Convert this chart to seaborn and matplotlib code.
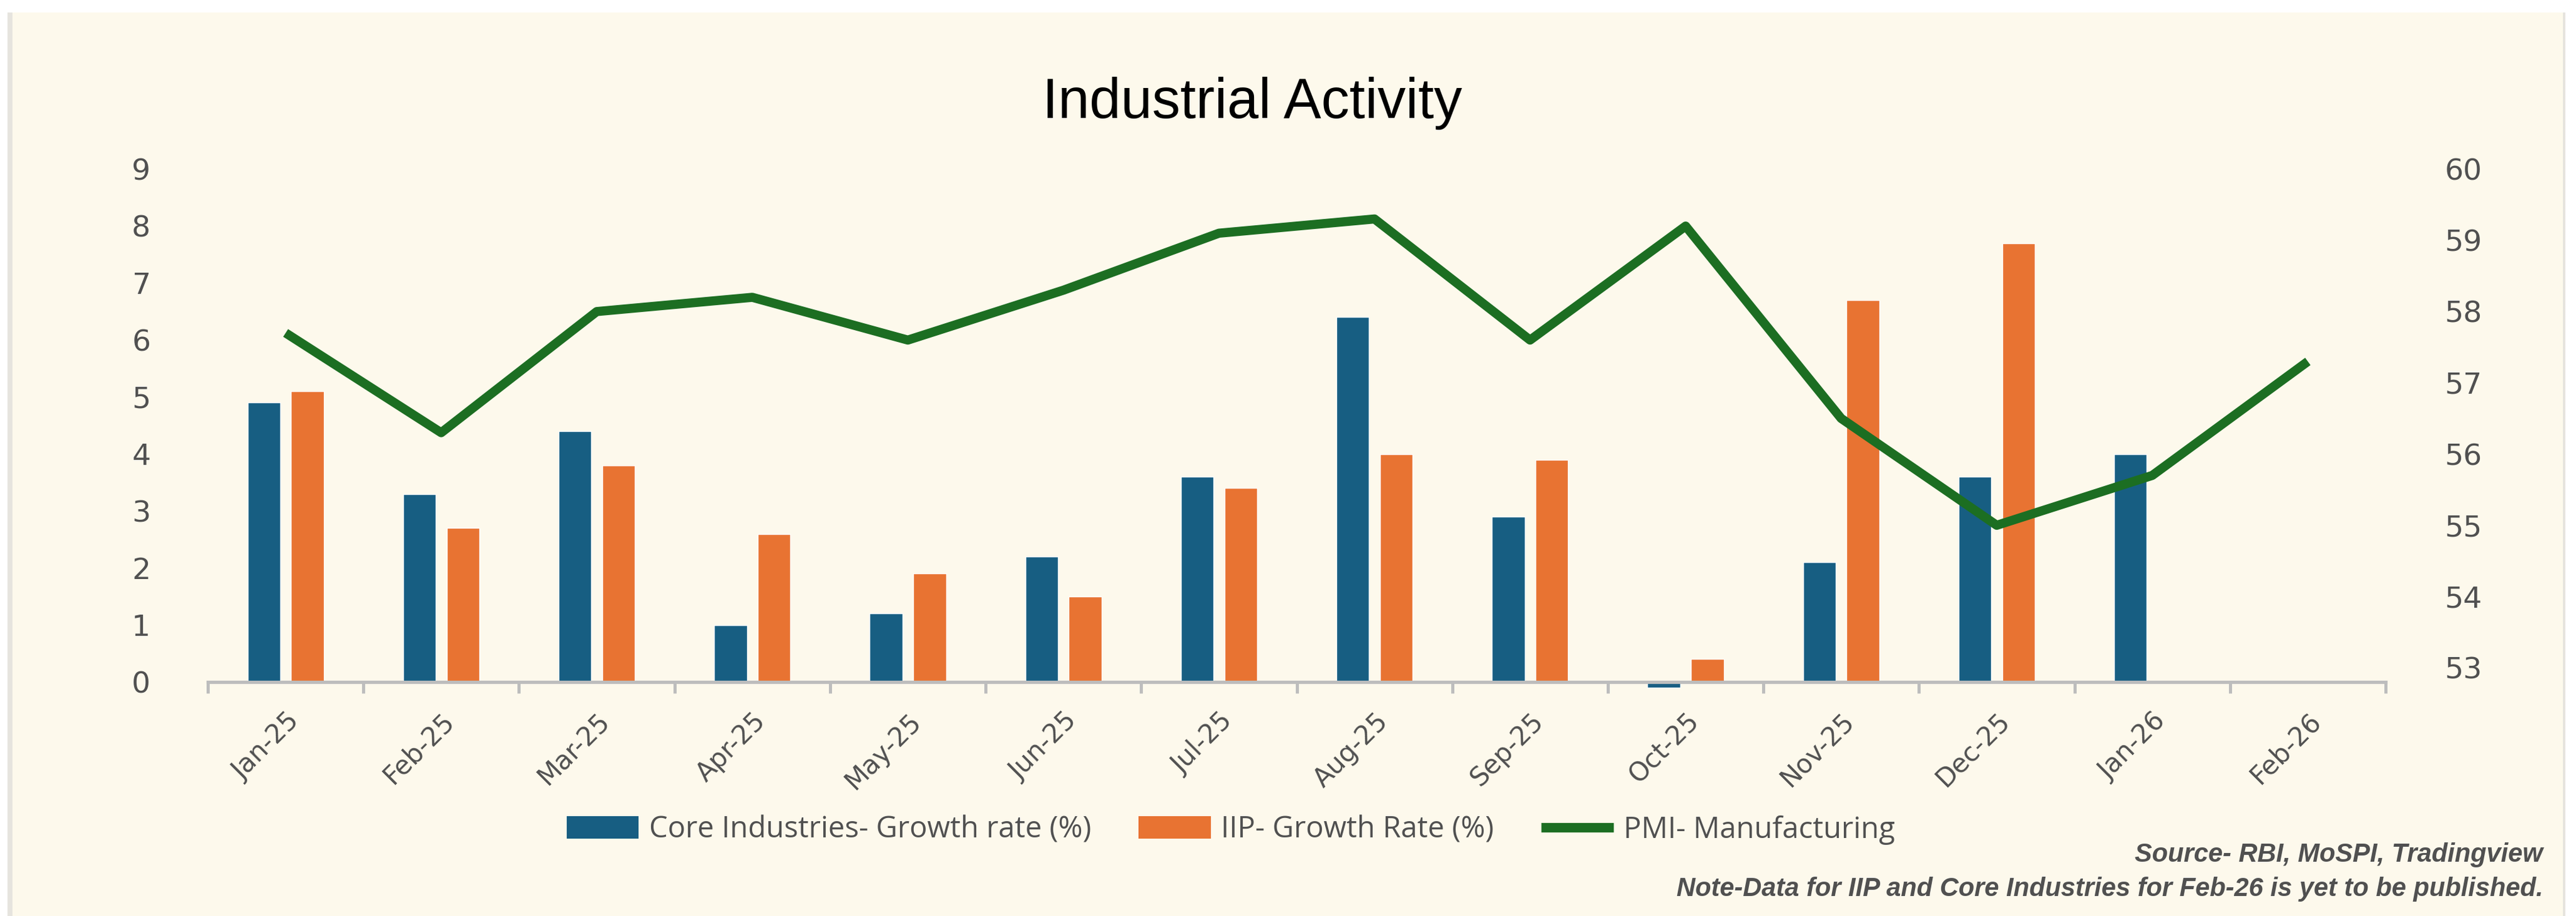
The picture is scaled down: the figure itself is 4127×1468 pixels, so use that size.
import numpy as np
import pandas as pd
import matplotlib
matplotlib.use("Agg")
import matplotlib.pyplot as plt
from matplotlib.patches import Patch, Rectangle
from matplotlib.lines import Line2D
import seaborn as sns

# ---------------- data ----------------
months = ["Jan-25", "Feb-25", "Mar-25", "Apr-25", "May-25", "Jun-25", "Jul-25",
          "Aug-25", "Sep-25", "Oct-25", "Nov-25", "Dec-25", "Jan-26", "Feb-26"]
core_growth = [4.9, 3.3, 4.4, 1.0, 1.2, 2.2, 3.6, 6.4, 2.9, -0.1, 2.1, 3.6, 4.0, np.nan]
iip_growth = [5.1, 2.7, 3.8, 2.6, 1.9, 1.5, 3.4, 4.0, 3.9, 0.4, 6.7, 7.7, np.nan, np.nan]
pmi_manufacturing = [57.7, 56.3, 58.0, 58.2, 57.6, 58.3, 59.1, 59.3, 57.6, 59.2, 56.5, 55.0, 55.7, 57.3]

series_names = ["Core Industries- Growth rate (%)", "IIP- Growth Rate (%)", "PMI- Manufacturing"]
left_ticks = list(range(0, 10))
right_ticks = list(range(53, 61))

title = "Industrial Activity"
source_text = "Source- RBI, MoSPI, Tradingview"
note_text = "Note-Data for IIP and Core Industries for Feb-26 is yet to be published."

# ---------------- style ----------------
BLUE = "#175E82"
ORANGE = "#E87332"
GREEN = "#1C6E22"
BG = "#FDF9EC"
TXT = "#505050"
AXIS = "#BDBDBD"
TICKFONT = ["DejaVu Sans"]

sns.set_theme(style="white")
plt.rcParams["font.family"] = ["Open Sans", "DejaVu Sans"]

W, H = 4127, 1468
fig = plt.figure(figsize=(W / 100, H / 100), dpi=100, facecolor="white")

# card background (drawn beneath everything)
fig.patches.append(Rectangle((12 / W, 0), (4110 - 12) / W, (H - 20) / H,
                             transform=fig.transFigure, facecolor="#E6E4DE",
                             edgecolor="none", zorder=-10))
fig.patches.append(Rectangle((20 / W, 0), (4106 - 20) / W, (H - 20) / H,
                             transform=fig.transFigure, facecolor=BG,
                             edgecolor="none", zorder=-9))

ax = fig.add_axes([333 / W, 1 - 1093 / H, (3822 - 333) / W, (1093 - 271) / H])
ax.set_facecolor("none")

df = pd.DataFrame({
    "month": months * 2,
    "series": [series_names[0]] * len(months) + [series_names[1]] * len(months),
    "value": core_growth + iip_growth,
})

sns.barplot(data=df, x="month", y="value", hue="series", order=months,
            hue_order=series_names[:2], palette=[BLUE, ORANGE], width=0.56,
            gap=0.25, saturation=1, errorbar=None, legend=False, ax=ax, zorder=2)
for p in ax.patches:
    p.set_clip_on(False)

ax.set_ylim(0, 9)
ax.set_xlim(-0.5, len(months) - 0.5)
ax.set_yticks(left_ticks)
ax.set_yticklabels([str(t) for t in left_ticks], family=TICKFONT)
ax.set_xticks(range(len(months)))
ax.set_xticklabels(months, rotation=45, ha="right", rotation_mode="anchor", family=TICKFONT)
ax.set_xticks(np.arange(-0.5, len(months), 1.0), minor=True)
ax.set_xlabel("")
ax.set_ylabel("")

for s in ["top", "right", "left"]:
    ax.spines[s].set_visible(False)
ax.spines["bottom"].set_color(AXIS)
ax.spines["bottom"].set_linewidth(3.8)
ax.spines["bottom"].set_zorder(3)

ax.tick_params(axis="x", which="major", length=0, pad=30, labelsize=30, labelcolor=TXT)
ax.tick_params(axis="x", which="minor", length=13, width=3.6, color=AXIS, direction="out", bottom=True)
ax.tick_params(axis="y", length=0, pad=66, labelsize=34, labelcolor=TXT, left=True)

ax2 = ax.twinx()
sns.lineplot(x=np.arange(len(months)), y=pmi_manufacturing, ax=ax2, color=GREEN,
             linewidth=10.5, legend=False)
ax2.lines[0].set_solid_capstyle("butt")
ax2.set_ylim(52.8, 60)
ax2.set_yticks(right_ticks)
ax2.set_yticklabels([str(t) for t in right_ticks], family=TICKFONT)
ax2.set_ylabel("")
for s in ax2.spines.values():
    s.set_visible(False)
ax2.tick_params(axis="y", length=0, pad=68, labelsize=34, labelcolor=TXT, right=True)
ax2.grid(False)
ax.grid(False)

# title
fig.text(2006 / W, 1 - 166 / H, title, ha="center", va="center", fontsize=65,
         color="black", family=["Liberation Sans", "DejaVu Sans"])

# legend
handles = [Patch(facecolor=BLUE, edgecolor="none"),
           Patch(facecolor=ORANGE, edgecolor="none"),
           Line2D([0], [0], color=GREEN, linewidth=11, solid_capstyle="butt")]
fig.legend(handles, series_names, loc="center", bbox_to_anchor=(1972 / W, 1 - 1330 / H),
           ncol=3, frameon=False, fontsize=34, labelcolor=TXT, handlelength=2.45,
           handleheight=0.8, handletextpad=0.35, columnspacing=1.6)

# source and note
fig.text(4074 / W, 1 - 1370 / H, source_text, ha="right", va="center", fontsize=30,
         weight="bold", style="italic", color=TXT, family=["Liberation Sans", "DejaVu Sans"])
fig.text(4074 / W, 1 - 1425 / H, note_text, ha="right", va="center", fontsize=30,
         weight="bold", style="italic", color=TXT, family=["Liberation Sans", "DejaVu Sans"])

fig.savefig("out.png", dpi=100, facecolor=fig.get_facecolor())
